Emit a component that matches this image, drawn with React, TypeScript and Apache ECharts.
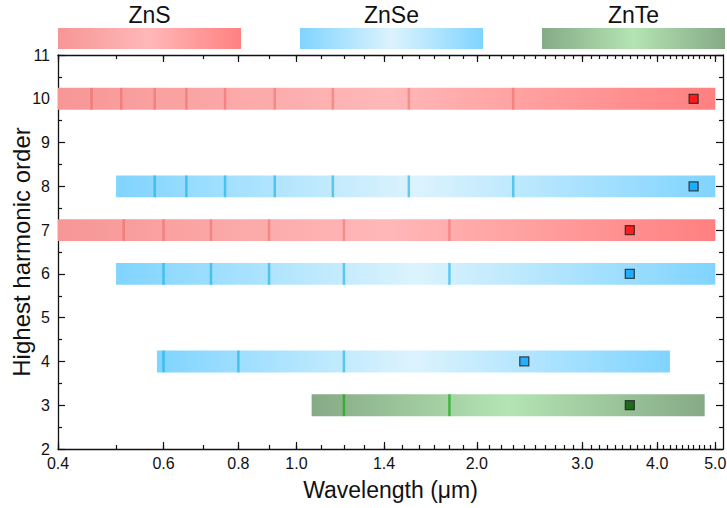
import React, { useEffect, useRef } from 'react';
import * as echarts from 'echarts';

// ---------- data ----------
const materials = ['ZnS', 'ZnSe', 'ZnTe'];
const bandMaterial = [0, 1, 0, 1, 1, 2];
const bandOrder = [10, 8, 7, 6, 4, 3];
const bandStart = [0.4, 0.5, 0.4, 0.5, 0.585, 1.06];
const bandEnd = [5.0, 5.0, 5.0, 5.0, 4.2, 4.8];
const pumpWavelength = [4.6, 4.6, 3.6, 3.6, 2.4, 3.6];
const harmonicLines = [
  [0.455, 0.51, 0.58, 0.655, 0.76, 0.92, 1.15, 1.54, 2.3],
  [0.58, 0.655, 0.76, 0.92, 1.15, 1.54, 2.3],
  [0.515, 0.6, 0.72, 0.9, 1.2, 1.8],
  [0.6, 0.72, 0.9, 1.2, 1.8],
  [0.6, 0.8, 1.2],
  [1.2, 1.8],
];
const xTickLabels = [0.4, 0.6, 0.8, 1.0, 1.4, 2.0, 3.0, 4.0, 5.0];
const xMinorTicks = [
  0.4, 0.5, 0.6, 0.7, 0.8, 0.9, 1.0, 1.1, 1.2, 1.3, 1.4, 1.5, 1.6, 1.7, 1.8, 1.9,
  2.0, 2.1, 2.2, 2.3, 2.4, 2.5, 2.6, 2.7, 2.8, 2.9, 3.0, 3.1, 3.2, 3.3, 3.4, 3.5,
  3.6, 3.7, 3.8, 3.9, 4.0, 4.1, 4.2, 4.3, 4.4, 4.5, 4.6, 4.7, 4.8, 4.9, 5.0,
];
const xRange = [0.4, 5.15];
const yRange = [2, 11];

// ---------- styles ----------
const FONT = '"Liberation Sans", Arial, sans-serif';
const gradStops = [
  ['rgb(247,150,150)', 'rgb(255,184,184)', 'rgb(255,128,128)'],
  ['rgb(128,212,255)', 'rgb(220,243,253)', 'rgb(128,212,255)'],
  ['rgb(134,170,134)', 'rgb(180,228,180)', 'rgb(134,170,134)'],
];
const lineColors = ['rgba(230,70,70,0.35)', 'rgba(0,170,230,0.55)', 'rgba(20,170,20,0.7)'];
const markerColors = ['#ff0000', '#00a2ff', '#005500'];

const grad = (m: number) =>
  new echarts.graphic.LinearGradient(0, 0, 1, 0, [
    { offset: 0, color: gradStops[m][0] },
    { offset: 0.5, color: gradStops[m][1] },
    { offset: 1, color: gradStops[m][2] },
  ]);

const L = (v: number) => Math.log10(v);

export default function App() {
  const ref = useRef<HTMLDivElement>(null);
  useEffect(() => {
    document.body.style.margin = '0';
    const chart = echarts.init(ref.current!, undefined, { renderer: 'svg' });

    const bandData = bandOrder.map((o, i) => [L(bandStart[i]), L(bandEnd[i]), o, bandMaterial[i]]);
    const lineData: number[][] = [];
    harmonicLines.forEach((arr, i) => arr.forEach((w) => lineData.push([L(w), bandOrder[i], bandMaterial[i]])));
    const markerData = bandOrder.map((o, i) => ({
      value: [L(pumpWavelength[i]), o],
      itemStyle: { color: markerColors[bandMaterial[i]] },
    }));

    const axisLineStyle = { color: '#111', width: 1.3 };
    const xMin = L(xRange[0]);
    const xMax = L(xRange[1]);
    const majorX = xTickLabels.map(L);
    const minorX = xMinorTicks.map(L);

    const xBase = (pos: string, custom: number[], len: number, showLine: boolean, labels: boolean, extra: any = {}) => ({
      type: 'value',
      min: xMin,
      max: xMax,
      position: pos,
      axisLine: { show: showLine, onZero: false, lineStyle: axisLineStyle },
      axisTick: { show: true, inside: true, length: len, customValues: custom, lineStyle: { color: '#111', width: 1.2 } },
      axisLabel: labels
        ? {
            show: true,
            customValues: custom,
            formatter: (v: number) => Math.pow(10, v).toFixed(1),
            fontFamily: FONT,
            fontSize: 16,
            color: '#111',
            margin: 6,
          }
        : { show: false },
      splitLine: { show: false },
      ...extra,
    });

    const yBase = (pos: string, labels: boolean, extra: any = {}) => ({
      type: 'value',
      min: yRange[0],
      max: yRange[1],
      interval: 1,
      position: pos,
      axisLine: { show: true, onZero: false, lineStyle: axisLineStyle },
      axisTick: { show: true, inside: true, length: 7, lineStyle: { color: '#111', width: 1.2 } },
      minorTick: { show: true, splitNumber: 2, length: 4, lineStyle: { color: '#111', width: 1.2 } },
      axisLabel: labels
        ? { show: true, fontFamily: FONT, fontSize: 16, color: '#111', margin: 8 }
        : { show: false },
      splitLine: { show: false },
      minorSplitLine: { show: false },
      ...extra,
    });

    const legendGraphics: any[] = [];
    const legendX = [58, 300, 542];
    materials.forEach((m, i) => {
      legendGraphics.push({
        type: 'rect',
        shape: { x: legendX[i], y: 28, width: 183, height: 21 },
        style: { fill: grad(i) },
      });
      legendGraphics.push({
        type: 'text',
        x: legendX[i] + 91.5,
        y: 15,
        style: {
          text: m,
          font: `23px ${FONT}`,
          fill: '#111',
          align: 'center',
          verticalAlign: 'middle',
          textAlign: 'center',
          textVerticalAlign: 'middle',
        },
      });
    });

    chart.setOption({
      animation: false,
      grid: { left: 58, right: 4, top: 55, bottom: 59, containLabel: false, outerBoundsMode: 'none' },
      xAxis: [
        xBase('bottom', majorX, 7, true, true, {
          name: 'Wavelength (μm)',
          nameLocation: 'middle',
          nameGap: 29,
          nameMoveOverlap: false,
          nameTextStyle: { fontFamily: FONT, fontSize: 23, color: '#111' },
        }),
        xBase('bottom', minorX, 4, false, false),
        xBase('top', majorX, 7, true, false),
        xBase('top', minorX, 4, false, false),
      ],
      yAxis: [
        yBase('left', true, {
          name: 'Highest harmonic order',
          nameLocation: 'middle',
          nameGap: 25,
          nameMoveOverlap: false,
          nameTextStyle: { fontFamily: FONT, fontSize: 24, color: '#111' },
        }),
        yBase('right', false),
      ],
      graphic: legendGraphics,
      series: [
        {
          type: 'custom',
          xAxisIndex: 0,
          yAxisIndex: 0,
          data: bandData,
          encode: { x: [0, 1], y: 2 },
          renderItem: (params: any, api: any) => {
            const p1 = api.coord([api.value(0), api.value(2)]);
            const p2 = api.coord([api.value(1), api.value(2)]);
            const h = api.size([0, 0.5])[1];
            return {
              type: 'rect',
              shape: { x: p1[0], y: p1[1] - h / 2, width: p2[0] - p1[0], height: h },
              style: { fill: grad(api.value(3)) },
            };
          },
          z: 2,
        },
        {
          type: 'custom',
          xAxisIndex: 0,
          yAxisIndex: 0,
          data: lineData,
          encode: { x: 0, y: 1 },
          renderItem: (params: any, api: any) => {
            const p = api.coord([api.value(0), api.value(1)]);
            const h = api.size([0, 0.5])[1];
            return {
              type: 'rect',
              shape: { x: p[0] - 1.25, y: p[1] - h / 2, width: 2.5, height: h },
              style: { fill: lineColors[api.value(2)] },
            };
          },
          z: 3,
        },
        {
          type: 'scatter',
          xAxisIndex: 0,
          yAxisIndex: 0,
          symbol: 'rect',
          symbolSize: 9,
          data: markerData,
          itemStyle: { borderColor: '#222', borderWidth: 1.3 },
          z: 4,
        },
      ],
    });
    return () => chart.dispose();
  }, []);
  return <div ref={ref} style={{ width: 727, height: 508 }} />;
}
